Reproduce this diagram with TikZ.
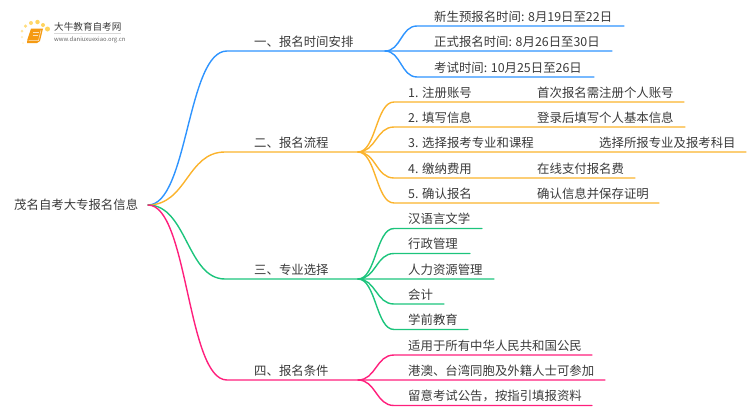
\documentclass[tikz,border=0pt]{standalone}
\usepackage{fontspec}
\setmainfont{Noto Sans CJK SC}
\definecolor{blueline}{HTML}{2E94FF}
\definecolor{orangeline}{HTML}{FBB32C}
\definecolor{greenline}{HTML}{1CC47C}
\definecolor{pinkline}{HTML}{FF1F7C}
\definecolor{inkgray}{HTML}{3A3A3A}
\definecolor{bookorange}{HTML}{F59A12}
\definecolor{dotyellow}{HTML}{FFD45E}
\tikzset{
  txt/.style={inner sep=0pt, anchor=base west, text=inkgray, font=\fontsize{12.4}{13}\selectfont},
  logotxt/.style={inner sep=0pt, anchor=base west, text=inkgray},
  wire/.style={line width=1.4pt, line cap=round},
  sun/.style={circle, fill=dotyellow, inner sep=0pt},
}
\begin{document}
\begin{tikzpicture}[x=1pt, y=-1pt]
\useasboundingbox (0,0) rectangle (750,410);

% Logo
\foreach \px/\py/\dd/\op in {23/43/2/0.25, 22/37/2.5/0.4, 22/31/3/0.6, 25.5/26/3.5/0.8, 31/23/4/0.9, 37.5/22/4.5/1, 43/25/4/1, 47.5/29/5/1}
  \node[sun, opacity=\op, minimum size=\dd pt] at (\px,\py) {};
\fill[bookorange] (31,28.5) -- (43,28.5) -- (40,41) -- (37,43) -- (27,43) -- (27.5,39) -- cycle;
\draw[white, opacity=0.8, line width=0.5pt] (28.5,40.5) -- (38.5,40.5) -- (41,30);
\draw[white, opacity=0.7, line width=0.5pt] (33,32) -- (39,32) (32.5,35) -- (38,35);
\node[logotxt, font=\fontsize{9.6}{10}\selectfont] (logoname) at (54,30.5) {大牛教育自考网};
\draw[black!15, line width=0.5pt] (54,33.5) .. controls (70,33.5) and (100,33.5) .. (121,33.5);
\node[logotxt, font=\fontsize{5.9}{6}\selectfont, text=black!60] (logourl) at (54,41) {www.daniuxuexiao.org.cn};

% Root
\node[txt] (root) at (14,209.5) {茂名自考大专报名信息};
\coordinate (r) at (148,205);

% Branch 1
\node[txt] (b1) at (254,46) {一、报名时间安排};
\coordinate (b1in) at (227,51);
\coordinate (b1out) at (385,51);
\node[txt] (b1a) at (434,21) {新生预报名时间: 8月19日至22日};
\node[txt] (b1b) at (434,46) {正式报名时间: 8月26日至30日};
\node[txt] (b1c) at (434,72) {考试时间: 10月25日至26日};
\coordinate (b1aend) at (624,26);
\coordinate (b1bend) at (612,51);
\coordinate (b1cend) at (594,77);
\draw[wire, blueline] (r) .. controls (188,205) and (187,51) .. (b1in) -- (b1out) -- (b1bend);
\draw[wire, blueline] (b1out) .. controls (401,51) and (401,26) .. (417,26) -- (b1aend);
\draw[wire, blueline] (b1out) .. controls (401,51) and (401,77) .. (417,77) -- (b1cend);

% Branch 2
\node[txt] (b2) at (254,147) {二、报名流程};
\coordinate (b2in) at (225,152);
\coordinate (b2out) at (358,152);
\node[txt] (b2a) at (408,97) {1. 注册账号};
\node[txt] (b2b) at (408,122) {2. 填写信息};
\node[txt] (b2c) at (408,147) {3. 选择报考专业和课程};
\node[txt] (b2d) at (408,173) {4. 缴纳费用};
\node[txt] (b2e) at (408,198) {5. 确认报名};
\node[txt] (b2ax) at (537,97) {首次报名需注册个人账号};
\node[txt] (b2bx) at (537,122) {登录后填写个人基本信息};
\node[txt] (b2cx) at (599,147) {选择所报专业及报考科目};
\node[txt] (b2dx) at (537,173) {在线支付报名费};
\node[txt] (b2ex) at (537,198) {确认信息并保存证明};
\coordinate (b2aend) at (684,102);
\coordinate (b2bend) at (685,127);
\coordinate (b2cend) at (746,152);
\coordinate (b2dend) at (635,178);
\coordinate (b2eend) at (659,203);
\draw[wire, orangeline] (r) .. controls (187,205) and (187,152) .. (b2in) -- (b2out) -- (b2cend);
\draw[wire, orangeline] (b2out) .. controls (376,152) and (376,102) .. (394,102) -- (b2aend);
\draw[wire, orangeline] (b2out) .. controls (376,152) and (376,127) .. (394,127) -- (b2bend);
\draw[wire, orangeline] (b2out) .. controls (376,152) and (376,178) .. (394,178) -- (b2dend);
\draw[wire, orangeline] (b2out) .. controls (376,152) and (376,203) .. (394,203) -- (b2eend);

% Branch 3
\node[txt] (b3) at (254,274) {三、专业选择};
\coordinate (b3in) at (225,279);
\coordinate (b3out) at (358,279);
\node[txt] (b3a) at (408,223.5) {汉语言文学};
\node[txt] (b3b) at (408,248.5) {行政管理};
\node[txt] (b3c) at (408,274) {人力资源管理};
\node[txt] (b3d) at (408,299) {会计};
\node[txt] (b3e) at (408,324.5) {学前教育};
\coordinate (b3aend) at (482,228.5);
\coordinate (b3bend) at (470,253.5);
\coordinate (b3cend) at (494,279);
\coordinate (b3dend) at (444,304);
\coordinate (b3eend) at (468,329.5);
\draw[wire, greenline] (r) .. controls (187,205) and (187,279) .. (b3in) -- (b3out) -- (b3cend);
\draw[wire, greenline] (b3out) .. controls (376,279) and (376,228.5) .. (394,228.5) -- (b3aend);
\draw[wire, greenline] (b3out) .. controls (376,279) and (376,253.5) .. (394,253.5) -- (b3bend);
\draw[wire, greenline] (b3out) .. controls (376,279) and (376,304) .. (394,304) -- (b3dend);
\draw[wire, greenline] (b3out) .. controls (376,279) and (376,329.5) .. (394,329.5) -- (b3eend);

% Branch 4
\node[txt] (b4) at (254,375) {四、报名条件};
\coordinate (b4in) at (227,380);
\coordinate (b4out) at (358,380);
\node[txt] (b4a) at (408,350) {适用于所有中华人民共和国公民};
\node[txt] (b4b) at (408,375) {港澳、台湾同胞及外籍人士可参加};
\node[txt] (b4c) at (408,400.5) {留意考试公告，按指引填报资料};
\coordinate (b4aend) at (592,355);
\coordinate (b4bend) at (605,380);
\coordinate (b4cend) at (592,405.5);
\draw[wire, pinkline] (r) .. controls (188,205) and (187,380) .. (b4in) -- (b4out) -- (b4bend);
\draw[wire, pinkline] (b4out) .. controls (376,380) and (376,355) .. (394,355) -- (b4aend);
\draw[wire, pinkline] (b4out) .. controls (376,380) and (376,405.5) .. (394,405.5) -- (b4cend);
\end{tikzpicture}
\end{document}
